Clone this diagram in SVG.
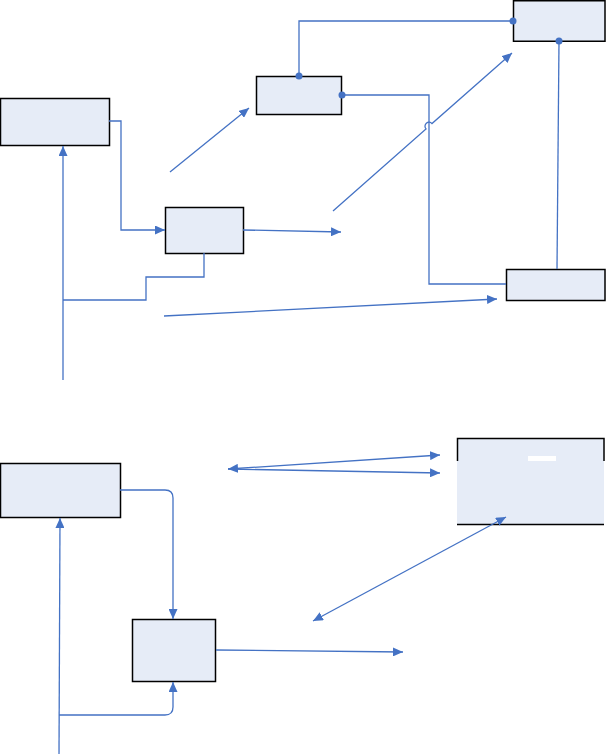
<svg xmlns="http://www.w3.org/2000/svg" width="606" height="754" viewBox="0 0 606 754">
<style>
.box{fill:#E6ECF7;stroke:#000;stroke-width:1.5}
.edge{fill:none;stroke:#4472C4;stroke-width:1.3}
.dot{fill:#4472C4}
.bl{stroke:#000;stroke-width:1.5;fill:none}
</style>
<defs>
<marker id="arr" markerUnits="userSpaceOnUse" markerWidth="10" markerHeight="9" refX="10" refY="4.5" orient="auto-start-reverse" viewBox="0 0 10 9">
<path d="M0,0 L10,4.5 L0,9 z" fill="#4472C4"/>
</marker>
</defs>
<rect width="606" height="754" fill="#fff"/>
<g id="nodeA"><rect class="box" x="0.5" y="98.5" width="109" height="47"/></g>
<g id="nodeB"><rect class="box" x="165.5" y="207.5" width="78" height="46"/></g>
<g id="nodeC"><rect class="box" x="256.5" y="76.5" width="85" height="38"/></g>
<g id="nodeD"><rect class="box" x="513.5" y="0.75" width="91.5" height="40.5"/></g>
<g id="nodeE"><rect class="box" x="506.5" y="269.5" width="98.5" height="31"/></g>
<g id="nodeF"><rect class="box" x="0.5" y="463.5" width="120" height="54"/></g>
<g id="nodeG"><rect class="box" x="132.5" y="619.5" width="83" height="62"/></g>
<g id="nodeH">
<rect x="457" y="438" width="147" height="87" fill="#E6ECF7"/>
<path class="bl" d="M457.5,461 V438.5 H604 V461 M457,524.5 H604"/>
<rect x="528" y="456" width="28" height="5" fill="#fff"/>
</g>
<g id="connectors">
<polyline class="edge" points="109,121 121,121 121,230 165,230" marker-end="url(#arr)"/>
<line class="edge" x1="243" y1="230" x2="341" y2="232" marker-end="url(#arr)"/>
<polyline class="edge" points="204,253 204,277 146,277 146,300 63,300"/>
<line class="edge" x1="63" y1="380" x2="63" y2="146" marker-end="url(#arr)"/>
<line class="edge" x1="164" y1="316" x2="497" y2="299" marker-end="url(#arr)"/>
<line class="edge" x1="170" y1="172" x2="249" y2="108" marker-end="url(#arr)"/>
<polyline class="edge" points="299,76 299,21 513,21"/>
<circle class="dot" cx="299" cy="76" r="3.5"/>
<circle class="dot" cx="513" cy="21" r="3.5"/>
<polyline class="edge" points="342,95 429,95 429,284 506,284"/>
<circle class="dot" cx="342" cy="95" r="3.5"/>
<line class="edge" x1="559" y1="41" x2="557" y2="269"/>
<circle class="dot" cx="559" cy="41" r="3.5"/>
<path class="edge" d="M333,211 L426,128.9 A3.5,3.5 0 0 1 432,123.6 L512,53" marker-end="url(#arr)"/>
<path class="edge" d="M120,490 H165 Q173,490 173,498 V619" marker-end="url(#arr)"/>
<line class="edge" x1="216" y1="650" x2="403" y2="652" marker-end="url(#arr)"/>
<line class="edge" x1="59" y1="754" x2="60" y2="518" marker-end="url(#arr)"/>
<path class="edge" d="M59,715 H165 Q173,715 173,707 V682" marker-end="url(#arr)"/>
<line class="edge" x1="228" y1="469" x2="440" y2="455" marker-start="url(#arr)" marker-end="url(#arr)"/>
<line class="edge" x1="228" y1="469" x2="440" y2="473" marker-end="url(#arr)"/>
<line class="edge" x1="313" y1="621" x2="506" y2="517" marker-start="url(#arr)" marker-end="url(#arr)"/>
</g>
</svg>
